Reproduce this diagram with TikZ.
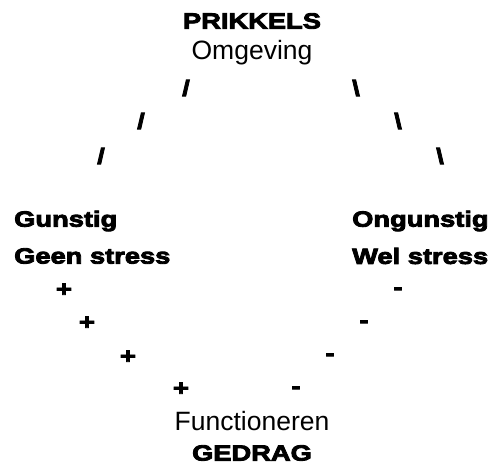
\documentclass[tikz,border=0pt]{standalone}
\usepackage{fontspec}
\setmainfont{Liberation Sans}
\newfontfamily\heavyfont[FakeBold=4,FakeStretch=1.24]{Liberation Sans Bold}
\begin{document}
\begin{tikzpicture}[x=1pt,y=-1pt,
  heavy/.style={inner sep=0pt,font=\heavyfont\fontsize{22}{26}\selectfont},
  plain/.style={inner sep=0pt,font=\fontsize{26.5}{30}\selectfont},
  sign/.style={inner sep=0pt,font=\heavyfont\fontsize{22}{26}\selectfont}]
\useasboundingbox (0,0) rectangle (492,467);
% top: stimuli from the environment
\node[heavy] (prikkels) at (252,21) {PRIKKELS};
\node[plain] (omgeving) at (252,53) {Omgeving};
% left and right branches
\node[sign] (l1) at (186,88) {/};
\node[sign] (l2) at (141,121) {/};
\node[sign] (l3) at (101,156) {/};
\node[sign] (r1) at (356,88) {\textbackslash};
\node[sign] (r2) at (398,121) {\textbackslash};
\node[sign] (r3) at (440,156) {\textbackslash};
\node[heavy,anchor=west] (gunstig) at (14,221) {Gunstig};
\node[heavy,anchor=west] (geen) at (14,256) {Geen stress};
\node[heavy,anchor=west] (ongunstig) at (352,221) {Ongunstig};
\node[heavy,anchor=west] (wel) at (352,256) {Wel stress};
\node[sign] (p1) at (64,290) {+};
\node[sign] (p2) at (87,323) {+};
\node[sign] (p3) at (128,357) {+};
\node[sign] (p4) at (181,389) {+};
\node[sign] (m1) at (398,291) {-};
\node[sign] (m2) at (364,324) {-};
\node[sign] (m3) at (330,357) {-};
\node[sign] (m4) at (296,390) {-};
% bottom: behaviour
\node[plain] (functioneren) at (252,421) {Functioneren};
\node[heavy] (gedrag) at (252,453) {GEDRAG};
\end{tikzpicture}
\end{document}
